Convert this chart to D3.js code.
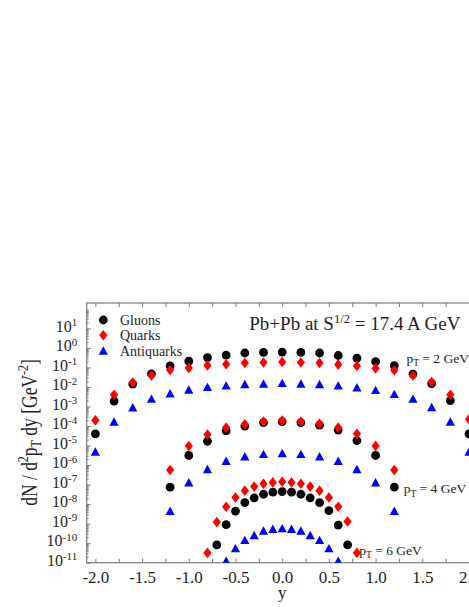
<!DOCTYPE html>
<html>
<head>
<meta charset="utf-8">
<script src="https://cdn.jsdelivr.net/npm/d3@7"></script>
<style>
  body { margin: 0; background: #fff; }
  svg { display: block; }
  text { font-family: "Liberation Serif", "Times New Roman", serif; fill: #1e1e1e; }
</style>
</head>
<body>
<div id="chart"></div>
<script>
// rapidity points and dN/d2pT dy values
var rap2 = [-2.0, -1.8, -1.6, -1.4, -1.2, -1.0, -0.8, -0.6, -0.4, -0.2, 0.0,
            0.2, 0.4, 0.6, 0.8, 1.0, 1.2, 1.4, 1.6, 1.8, 2.0];
var gluons2 = [4.0e-5, 1.9e-3, 1.4e-2, 4.7e-2, 0.12, 0.21, 0.32, 0.43, 0.55, 0.59, 0.61,
               0.59, 0.55, 0.41, 0.30, 0.20, 0.125, 4.6e-2, 1.5e-2, 2.0e-3, 4.0e-5];
var quarks2 = [1.95e-4, 4.0e-3, 1.7e-2, 3.9e-2, 7.4e-2, 9.5e-2, 0.126, 0.145, 0.17, 0.18, 0.19,
               0.18, 0.17, 0.14, 0.12, 9.0e-2, 7.2e-2, 3.9e-2, 1.8e-2, 4.0e-3, 2.2e-4];
var antiquarks2 = [4.9e-6, 1.7e-4, 9.1e-4, 2.5e-3, 4.7e-3, 7.4e-3, 1.0e-2, 1.2e-2, 1.4e-2, 1.5e-2, 1.6e-2,
                   1.5e-2, 1.4e-2, 1.2e-2, 9.6e-3, 7.0e-3, 4.4e-3, 2.5e-3, 9.3e-4, 1.7e-4, 4.9e-6];

var rap4 = [-1.2, -1.0, -0.8, -0.6, -0.4, -0.2, 0.0, 0.2, 0.4, 0.6, 0.8, 1.0, 1.2];
var gluons4 = [7.4e-8, 3.1e-6, 1.66e-5, 5.6e-5, 1.0e-4, 1.5e-4, 1.7e-4, 1.5e-4, 1.1e-4, 6.2e-5, 1.8e-5, 3.1e-6, 7.4e-8];
var quarks4 = [5.6e-7, 9.5e-6, 3.7e-5, 8.3e-5, 1.23e-4, 1.7e-4, 1.9e-4, 1.7e-4, 1.3e-4, 8.3e-5, 4.0e-5, 9.6e-6, 5.6e-7];
var antiquarks4 = [4.5e-9, 1.3e-7, 6.2e-7, 1.66e-6, 2.8e-6, 3.7e-6, 4.1e-6, 3.7e-6, 2.8e-6, 1.66e-6, 6.2e-7, 1.3e-7, 4.5e-9];

var rap6 = [-0.8, -0.7, -0.6, -0.5, -0.4, -0.3, -0.2, -0.1, 0.0, 0.1, 0.2, 0.3, 0.4, 0.5, 0.6, 0.7, 0.8];
var gluons6 = [null, 8.1e-11, 8.9e-10, 4.4e-9, 1.2e-8, 2.1e-8, 3.2e-8, 4.1e-8, 4.4e-8,
               4.1e-8, 3.2e-8, 2.1e-8, 1.2e-8, 4.6e-9, 8.5e-10, 8.1e-11, null];
var quarks6 = [3.2e-11, 1.2e-9, 7.4e-9, 2.2e-8, 4.9e-8, 7.9e-8, 1.1e-7, 1.3e-7, 1.4e-7,
               1.3e-7, 1.1e-7, 7.9e-8, 4.9e-8, 2.2e-8, 7.4e-9, 1.3e-9, 3.2e-11];
var antiquarks6 = [null, null, 1.26e-11, 5.5e-11, 1.45e-10, 2.6e-10, 4.4e-10, 5.4e-10, 5.8e-10,
                   5.4e-10, 4.4e-10, 2.6e-10, 1.45e-10, 5.5e-11, 1.26e-11, null, null];

var xTickLabels = [-2.0, -1.5, -1.0, -0.5, 0.0, 0.5, 1.0, 1.5, 2.0];
var xMinorTicks = [-2.0, -1.75, -1.5, -1.25, -1.0, -0.75, -0.5, -0.25, 0.0, 0.25, 0.5, 0.75, 1.0, 1.25, 1.5, 1.75, 2.0];
var yTickExps = [1, 0, -1, -2, -3, -4, -5, -6, -7, -8, -9, -10, -11];
var legendNames = ["Gluons", "Quarks", "Antiquarks"];
var curveLabels = [
  {pt: 2, rap: 1.33, val: 0.17},
  {pt: 4, rap: 1.30, val: 3.6e-8},
  {pt: 6, rap: 0.825, val: 2.5e-11}
];

var width = 469;
var height = 607;

var plotLeft = 86.7, plotRight = 477.7, plotTop = 303, plotBottom = 562.7;

var x = d3.scaleLinear().domain([-2.093, 2.093]).range([plotLeft, plotRight]);
var y = d3.scaleLog().domain([1e-11, 200]).range([plotBottom, plotTop]);

var svg = d3.select("#chart").append("svg")
.attr("width", width)
.attr("height", height);

svg.append("defs").append("clipPath")
.attr("id", "plotclip")
.append("rect")
.attr("x", plotLeft)
.attr("y", plotTop)
.attr("width", plotRight - plotLeft)
.attr("height", plotBottom - plotTop);

function styleAxis(g) {
  g.select(".domain").remove();
  g.selectAll(".tick line").attr("stroke", "#7a7a7a").attr("stroke-width", 1);
  g.selectAll(".tick text")
  .style("font-family", "'Liberation Serif', 'Times New Roman', serif")
  .attr("fill", "#1e1e1e");
}

function fmtX(d) {
  return xTickLabels.indexOf(d) >= 0 ? d.toFixed(1) : "";
}

// bottom and top axes, ticks pointing into the frame
svg.append("g")
.attr("transform", "translate(0," + plotBottom + ")")
.call(d3.axisBottom(x).tickValues(xMinorTicks).tickSizeInner(-4).tickSizeOuter(0).tickPadding(8).tickFormat(fmtX))
.call(styleAxis)
.selectAll("text")
.style("font-size", "17px");

svg.append("g")
.attr("transform", "translate(0," + plotTop + ")")
.call(d3.axisTop(x).tickValues(xMinorTicks).tickSizeInner(-4).tickSizeOuter(0).tickFormat(""))
.call(styleAxis);

var decades = yTickExps.map(function(e) { return Math.pow(10, e); });
var minors = [];
yTickExps.forEach(function(e) {
  for (var m = 2; m <= 9; m++) {
    minors.push(m * Math.pow(10, e));
  }
});

svg.append("g")
.attr("transform", "translate(" + plotLeft + ",0)")
.call(d3.axisLeft(y).tickValues(minors).tickSizeInner(-2).tickSizeOuter(0).tickFormat(""))
.call(styleAxis);

var yAxis = svg.append("g")
.attr("transform", "translate(" + plotLeft + ",0)")
.call(d3.axisLeft(y).tickValues(decades).tickSizeInner(-4).tickSizeOuter(0).tickPadding(9.5).tickFormat(""))
.call(styleAxis);

yAxis.selectAll(".tick text").each(function(d) {
  var t = d3.select(this);
  var e = Math.round(Math.log10(d));
  t.attr("dy", "0.17em").style("font-size", "16px");
  t.append("tspan").text("10");
  t.append("tspan").attr("dy", "-0.5em").style("font-size", "11px").text(e);
});

svg.append("g")
.attr("transform", "translate(" + plotRight + ",0)")
.call(d3.axisRight(y).tickValues(decades).tickSizeInner(-4).tickSizeOuter(0).tickFormat(""))
.call(styleAxis);

svg.append("rect")
.attr("x", plotLeft)
.attr("y", plotTop)
.attr("width", plotRight - plotLeft)
.attr("height", plotBottom - plotTop)
.attr("fill", "none")
.attr("stroke", "#7a7a7a")
.attr("stroke-width", 1.2);

// markers
function diamond(cx, cy) {
  return "M" + cx + "," + (cy - 5.3) + "L" + (cx + 4.1) + "," + cy +
    "L" + cx + "," + (cy + 5.3) + "L" + (cx - 4.1) + "," + cy + "Z";
}

function triangle(cx, cy) {
  return "M" + cx + "," + (cy - 4.3) + "L" + (cx + 4.6) + "," + (cy + 4.1) +
    "L" + (cx - 4.6) + "," + (cy + 4.1) + "Z";
}

function drawMarker(g, kind, cx, cy) {
  if (kind == "gluon") {
    g.append("circle").attr("cx", cx).attr("cy", cy).attr("r", 4.4).attr("fill", "#000");
  } else if (kind == "quark") {
    g.append("path").attr("d", diamond(cx, cy)).attr("fill", "#ff0000");
  } else {
    g.append("path").attr("d", triangle(cx, cy)).attr("fill", "#0000ff");
  }
}

var marks = svg.append("g").attr("clip-path", "url(#plotclip)");

function plotSeries(raps, vals, kind) {
  var g = marks.append("g").attr("class", kind);
  raps.forEach(function(r, i) {
    if (vals[i] == null) return;
    drawMarker(g, kind, x(r), y(vals[i]));
  });
}

plotSeries(rap2, gluons2, "gluon");
plotSeries(rap4, gluons4, "gluon");
plotSeries(rap6, gluons6, "gluon");
plotSeries(rap2, quarks2, "quark");
plotSeries(rap4, quarks4, "quark");
plotSeries(rap6, quarks6, "quark");
plotSeries(rap2, antiquarks2, "antiquark");
plotSeries(rap4, antiquarks4, "antiquark");
plotSeries(rap6, antiquarks6, "antiquark");

// legend
var kinds = ["gluon", "quark", "antiquark"];
var legend = svg.append("g");
legendNames.forEach(function(name, i) {
  var ly = 320 + i * 15.3;
  drawMarker(legend, kinds[i], 103.3, ly);
  legend.append("text")
  .attr("x", 120)
  .attr("y", ly + 5)
  .style("font-size", "14px")
  .text(name);
});

// title
var title = svg.append("text")
.attr("x", 249.3)
.attr("y", 330)
.style("font-size", "19px");
title.append("tspan").text("Pb+Pb at S");
title.append("tspan").attr("dy", -7).style("font-size", "12.5px").text("1/2");
title.append("tspan").attr("dy", 7).text(" = 17.4 A GeV");

// pT labels next to the curves
curveLabels.forEach(function(c) {
  var t = svg.append("text")
  .attr("x", x(c.rap))
  .attr("y", y(c.val))
  .style("font-size", "13.5px");
  t.append("tspan").text("p");
  t.append("tspan").attr("dy", 3.5).style("font-size", "9.5px").text("T");
  t.append("tspan").attr("dy", -3.5).text(" = " + c.pt + " GeV");
});

// axis titles
svg.append("text")
.attr("x", x(0))
.attr("y", 598)
.attr("text-anchor", "middle")
.style("font-size", "17px")
.text("y");

var ylab = svg.append("text")
.attr("transform", "translate(36.5,432.5) scale(1.3,1) rotate(-90)")
.attr("text-anchor", "middle")
.style("font-size", "17.5px");
ylab.append("tspan").text("dN / d");
ylab.append("tspan").attr("dy", -6.5).style("font-size", "12px").text("2");
ylab.append("tspan").attr("dy", 6.5).text("p");
ylab.append("tspan").attr("dy", 3.5).style("font-size", "12px").text("T");
ylab.append("tspan").attr("dy", -3.5).text(" dy [GeV");
ylab.append("tspan").attr("dy", -6.5).style("font-size", "12px").text("-2");
ylab.append("tspan").attr("dy", 6.5).text("]");
</script>
</body>
</html>
